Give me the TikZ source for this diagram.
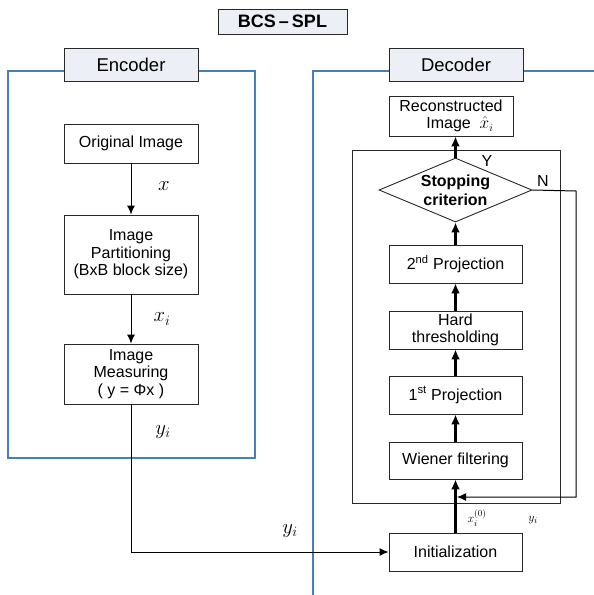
\documentclass[tikz,border=0pt]{standalone}
\usepackage{fontspec}
\setmainfont{Liberation Sans}
\usetikzlibrary{shapes.geometric,arrows.meta}
\definecolor{frameblue}{RGB}{74,126,187}
\definecolor{headfill}{RGB}{236,239,245}
\definecolor{boxline}{RGB}{40,40,40}
\begin{document}
\begin{tikzpicture}[x=1pt,y=-1pt,
  blk/.style={draw=boxline,line width=0.9pt,fill=white,minimum width=133pt,inner sep=1pt,align=center,font=\fontsize{16}{17.5}\selectfont},
  head/.style={draw=boxline,line width=0.9pt,fill=headfill,minimum width=134pt,minimum height=33pt,inner sep=1pt,font=\fontsize{18.5}{20}\selectfont},
  bframe/.style={draw=frameblue,line width=1.3pt},
  arrthin/.style={draw=black,line width=1pt,-{Latex[length=9pt,width=8pt]}},
  arrthick/.style={draw=black,line width=2.2pt,-{Latex[length=10pt,width=9pt]}},
  mlab/.style={font=\fontsize{20}{22}\selectfont},
  slab/.style={font=\fontsize{13}{15}\selectfont}]
\useasboundingbox (0,0) rectangle (594,595);
% frames
\draw[bframe] (8,71) rectangle (255,458);
\draw[bframe] (313,595) -- (313,71) -- (594,71);
% title
\node[head,minimum width=129pt,minimum height=25pt,font=\bfseries\fontsize{18}{20}\selectfont] (title) at (282.5,21.5) {BCS\,–\,SPL};
\node[head] (enc) at (131,64.5) {Encoder};
\node[head] (dec) at (456,65) {Decoder};
% encoder
\node[blk,minimum width=134pt,minimum height=39pt] (orig) at (131,143.5) {Original Image};
\node[blk,minimum width=134pt,minimum height=79pt] (part) at (131,254.5) {Image\\Partitioning\\(BxB block size)};
\node[blk,minimum width=134pt,minimum height=60pt] (meas) at (131,374) {Image\\Measuring\\( y = Φx )};
\draw[arrthin] (orig) -- (part);
\draw[arrthin] (part) -- (meas);
\node[mlab] (lx) at (164,186) {$x$};
\node[mlab] (lxi) at (162,319) {$x_i$};
\node[mlab] (lyi) at (163,432) {$y_i$};
% decoder
\draw[line width=0.9pt,draw=boxline] (352,150) rectangle (560,503);
\node[blk,minimum width=124pt,minimum height=40pt] (rec) at (451,116) {Reconstructed\\\hspace*{18pt}Image\ \ $\hat{x}_i$};
\node[draw=boxline,line width=0.9pt,fill=white,shape=diamond,aspect=2.39,minimum width=153pt,minimum height=64pt,inner sep=0pt,align=center,font=\bfseries\fontsize{16}{19}\selectfont] (stop) at (455.5,190) {Stopping\\criterion};
\node[blk,minimum height=38pt] (p2) at (455.5,264) {2\textsuperscript{nd} Projection};
\node[blk,minimum height=38pt] (hard) at (455.5,330) {Hard\\thresholding};
\node[blk,minimum height=38pt] (p1) at (455.5,395) {1\textsuperscript{st} Projection};
\node[blk,minimum height=37pt] (wien) at (455.5,460.5) {Wiener filtering};
\node[blk,minimum height=38pt] (init) at (455.5,552) {Initialization};
\draw[arrthick] (init) -- (wien);
\draw[arrthick] (wien) -- (p1);
\draw[arrthick] (p1) -- (hard);
\draw[arrthick] (hard) -- (p2);
\draw[arrthick] (p2) -- (stop);
\draw[arrthick] (stop.north) -- (stop.north |- rec.south);
\coordinate (nr) at (576,191);
\coordinate (fb) at (457,497);
\draw[arrthin] (stop.east) -- (nr) -- (nr |- fb) -- (fb);
\node[font=\fontsize{16}{17}\selectfont] (ylab) at (487,161) {Y};
\node[font=\fontsize{16}{17}\selectfont] (nlab) at (543,181) {N};
\node[slab] (lx0) at (477,518) {$x_i^{(0)}$};
\node[slab] (lyr) at (533,520) {$y_i$};
% connector encoder -> init
\coordinate (cb) at (131,552);
\draw[arrthin] (meas.south) -- (cb) -- (init.west);
\node[mlab] (lyi2) at (290,531) {$y_i$};
\end{tikzpicture}
\end{document}
